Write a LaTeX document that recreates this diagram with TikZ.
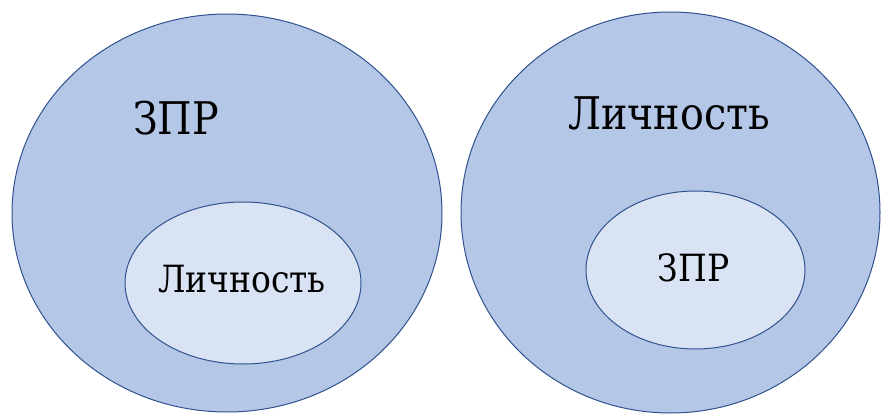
\documentclass[tikz,border=0pt]{standalone}
\usepackage{fontspec}
\setmainfont{DejaVu Serif}
\newfontfamily\tnr{DejaVu Serif}[FakeStretch=0.88]
\usetikzlibrary{shapes.geometric}
\definecolor{outerfill}{HTML}{B4C7E7}
\definecolor{innerfill}{HTML}{DAE3F3}
\definecolor{edgeblue}{HTML}{2F528F}
\begin{document}
\begin{tikzpicture}[x=1pt,y=-1pt,
  outerell/.style={ellipse, draw=edgeblue, fill=outerfill, line width=1pt, inner sep=0pt},
  innerell/.style={ellipse, draw=edgeblue, fill=innerfill, line width=1pt, inner sep=0pt},
  bigtext/.style={anchor=base, inner sep=0pt, font=\tnr\fontsize{45}{54}\selectfont},
  smalltext/.style={anchor=base, inner sep=0pt, font=\tnr\fontsize{37.5}{45}\selectfont}]
\useasboundingbox (0,0) rectangle (881,414);
\fill[white] (0,0) rectangle (881,414);
\node[outerell, minimum width=430pt, minimum height=398pt] (lout) at (227,213) {};
\node[innerell, minimum width=236pt, minimum height=162pt] (lin) at (243,283) {};
\node[outerell, minimum width=419pt, minimum height=401pt] (rout) at (670.5,212.5) {};
\node[innerell, minimum width=219pt, minimum height=158pt] (rin) at (695.5,270) {};
\node[bigtext] (t1) at (176,135) {ЗПР};
\node[bigtext] (t2) at (669,130) {Личность};
\node[smalltext] (t3) at (242,292) {Личность};
\node[smalltext] (t4) at (693.5,281) {ЗПР};
\end{tikzpicture}
\end{document}
